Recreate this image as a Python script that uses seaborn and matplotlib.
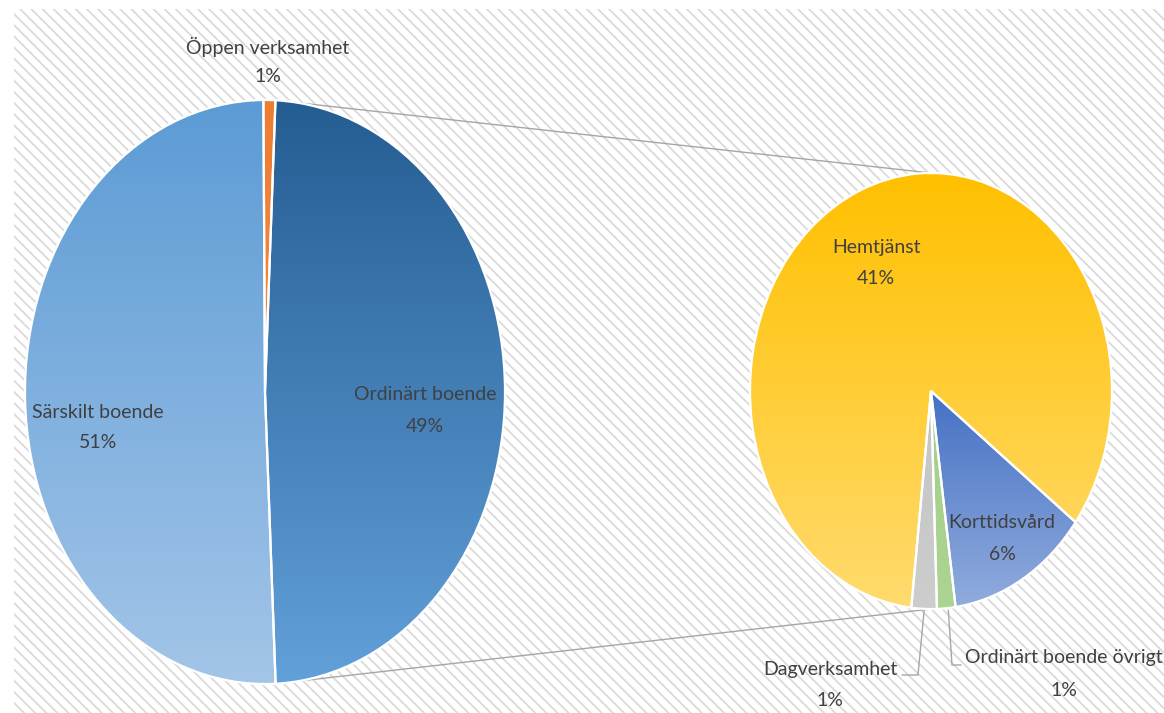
import numpy as np
import matplotlib
matplotlib.use('Agg')
import matplotlib.pyplot as plt
from matplotlib.colors import to_rgb
from matplotlib.patches import Rectangle
import seaborn as sns

# data (percent of all costs)
main_labels = ['Ordinärt boende', 'Särskilt boende', 'Öppen verksamhet']
main_values = [48.6, 50.6, 0.8]
sub_labels = ['Hemtjänst', 'Dagverksamhet', 'Ordinärt boende övrigt', 'Korttidsvård']
sub_values = [40.6, 1.1, 0.8, 6.1]

# (top, bottom) colours of the vertical gradient in each slice
main_colors = [('#245d92', '#62a0d9'), ('#5c9bd5', '#a3c5e8'), ('#ed7d31', '#f08a45')]
sub_colors = [('#ffc000', '#ffdb6e'), ('#c4c4c4', '#cdcdcd'),
              ('#a3cf88', '#acd493'), ('#4571c4', '#91acdd')]

sns.set_theme(style='white')
plt.rcParams['font.family'] = ['Lato', 'DejaVu Sans']
plt.rcParams['hatch.color'] = '#dadada'
plt.rcParams['hatch.linewidth'] = 1.3

W, H = 1164, 713
TXT = '#404040'
LINE = '#a6a6a6'
FS = 14

# pie geometry in pixels: centre x, centre y, radius x, radius y
main_geo = (265, 392, 240, 292)
sub_geo = (931, 391, 181, 218)
PAD = 1.03

fig = plt.figure(figsize=(W / 100, H / 100), dpi=100)

bg = fig.add_axes([0, 0, 1, 1], zorder=0)
bg.set_xlim(0, W)
bg.set_ylim(H, 0)
bg.axis('off')
bg.add_patch(Rectangle((14, 9), W - 14, H - 9, facecolor='white',
                       edgecolor='#dadada', lw=0, hatch='\\\\\\'))

fg = fig.add_axes([0, 0, 1, 1], zorder=3)
fg.set_xlim(0, W)
fg.set_ylim(H, 0)
fg.axis('off')
fg.patch.set_alpha(0)


def pie_axes(geo):
    cx, cy, rx, ry = geo
    ax = fig.add_axes([(cx - PAD * rx) / W, 1 - (cy + PAD * ry) / H,
                       2 * PAD * rx / W, 2 * PAD * ry / H], zorder=1)
    ax.patch.set_alpha(0)
    return ax


def gradient_pie(ax, values, colors, start, counterclock):
    wedges, _ = ax.pie(values, startangle=start, counterclock=counterclock, radius=1,
                       wedgeprops=dict(edgecolor='white', linewidth=1.6))
    t = np.linspace(0, 1, 256)[:, None, None]
    for w, (c_top, c_bot) in zip(wedges, colors):
        ext = w.get_path().get_extents()
        grad = (1 - t) * np.array(to_rgb(c_top)) + t * np.array(to_rgb(c_bot))
        im = ax.imshow(grad, extent=[ext.x0, ext.x1, ext.y0, ext.y1], origin='upper',
                       aspect='auto', zorder=1, interpolation='bilinear')
        im.set_clip_path(w)
        w.set_facecolor('none')
        w.set_zorder(2)
    ax.set_aspect('auto')
    ax.set_xlim(-PAD, PAD)
    ax.set_ylim(-PAD, PAD)
    ax.axis('off')
    return wedges


def edge_point(geo, ang):
    cx, cy, rx, ry = geo
    a = np.deg2rad(ang)
    return cx + rx * np.cos(a), cy - ry * np.sin(a)


ax1 = pie_axes(main_geo)
w_main = gradient_pie(ax1, main_values, main_colors, 87.5, False)
ax2 = pie_axes(sub_geo)
w_sub = gradient_pie(ax2, sub_values, sub_colors, -37, True)

# connector lines between the pies (behind them)
split = w_main[0]
p_top = edge_point(main_geo, split.theta2)
p_bot = edge_point(main_geo, split.theta1)
q_top = edge_point(sub_geo, 90)
q_bot = edge_point(sub_geo, -90)
bg.plot([p_top[0], q_top[0]], [p_top[1], q_top[1]], color=LINE, lw=1)
bg.plot([p_bot[0], q_bot[0]], [p_bot[1], q_bot[1]], color=LINE, lw=1)


def pct(v):
    return f'{round(v):.0f}%'


def label(x, y, name, value, gap=31):
    fg.text(x, y, name, ha='center', va='center', fontsize=FS, color=TXT)
    fg.text(x, y + gap, pct(value), ha='center', va='center', fontsize=FS, color=TXT)


label(425, 395, main_labels[0], main_values[0])
label(98, 412, main_labels[1], main_values[1])
label(268, 47, main_labels[2], main_values[2], gap=30)
label(876, 247, sub_labels[0], sub_values[0])
label(830, 670, sub_labels[1], sub_values[1], gap=30)
label(1064, 657, sub_labels[2], sub_values[2], gap=33)
label(1002, 523, sub_labels[3], sub_values[3], gap=32)

# leader lines for the small slices of the second pie
w = w_sub[1]
sx, sy = edge_point(sub_geo, (w.theta1 + w.theta2) / 2)
bg.plot([sx, 918, 902], [sy + 2, 675, 675], color=LINE, lw=1)
w = w_sub[2]
sx, sy = edge_point(sub_geo, (w.theta1 + w.theta2) / 2)
bg.plot([sx + 2, 952, 961], [sy + 2, 665, 665], color=LINE, lw=1)

fig.savefig('out.png', dpi=100)
